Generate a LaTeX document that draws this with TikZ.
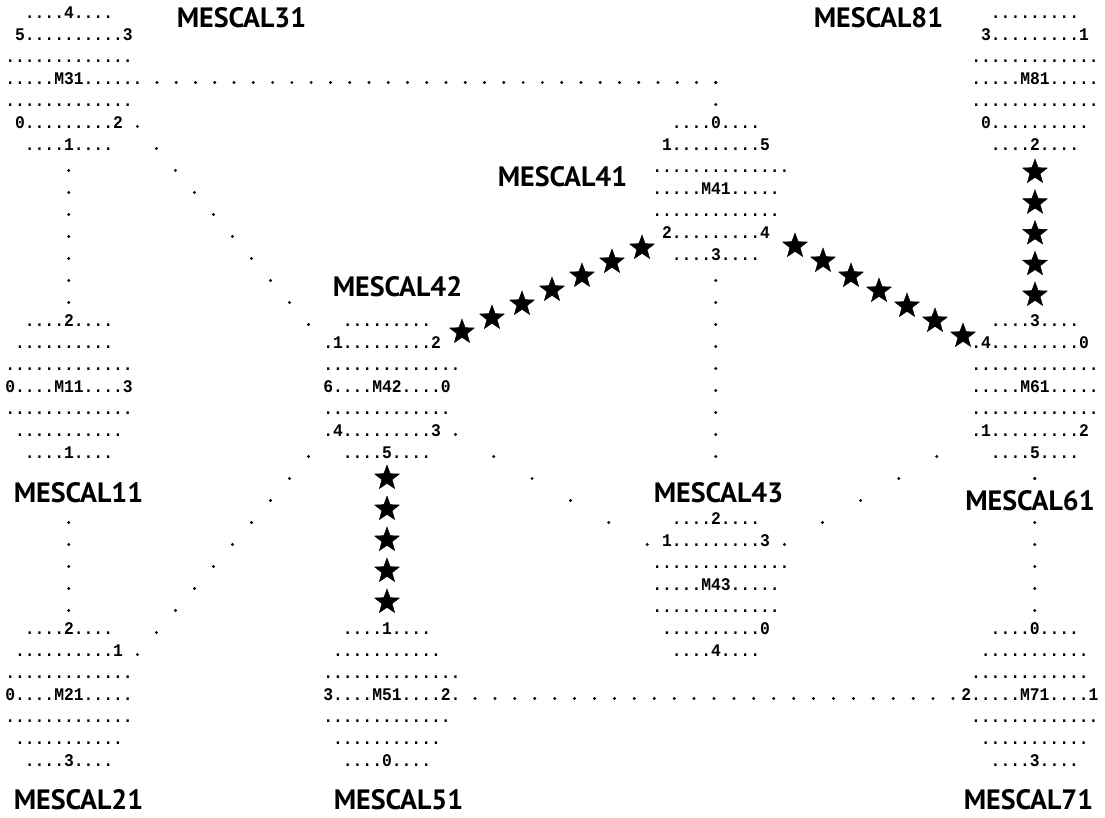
\documentclass[tikz,border=0pt]{standalone}
\usepackage{fontspec}
\usetikzlibrary{calc,shapes.geometric}
\newfontfamily\monof{Liberation Mono}[FakeStretch=0.92]
\newfontfamily\labf{PT Sans}
\newcommand\bl{\hphantom{0}}
\newcommand\dotline[3]{\foreach \i in {0,...,#3}{\fill ($(#1)!{\i/#3}!(#2)$) circle[radius=1.6pt];}}
\newcommand\starline[3]{\foreach \i in {0,...,#3}{\node[starmark] at ($(#1)!{\i/#3}!(#2)$) {};}}
\tikzset{
  block/.style={anchor=north west, inner sep=0pt, align=left, font=\monof\bfseries\fontsize{17.75}{22}\selectfont},
  lab/.style={inner sep=0pt, font=\labf\bfseries\fontsize{28}{28}\selectfont},
  starmark/.style={star, star points=5, star point ratio=2.4, fill=black, draw=black, minimum size=26pt, inner sep=0pt},
}
\begin{document}
\begin{tikzpicture}[x=1pt,y=-1pt]
\fill[white] (0,0) rectangle (1105,818);
\useasboundingbox (0,0) rectangle (1105,818);

% blocks
\node[block] (m31) at (5.1,2.6) {\strut\bl\bl....4....\\\bl5..........3\\.............\\.....M31......\\.............\\\bl0.........2\\\bl\bl....1....};
\node[block] (m11) at (5.1,310.6) {\strut\bl\bl....2....\\\bl..........\\.............\\0....M11....3\\.............\\\bl...........\\\bl\bl....1....};
\node[block] (m21) at (5.1,618.6) {\strut\bl\bl....2....\\\bl..........1\\.............\\0....M21.....\\.............\\\bl...........\\\bl\bl....3....};
\node[block] (m42) at (323.1,310.6) {\strut\bl\bl.........\\.1.........2\\..............\\6....M42....0\\.............\\.4.........3\\\bl\bl....5....};
\node[block] (m51) at (323.1,618.6) {\strut\bl\bl....1....\\\bl...........\\..............\\3....M51....2.\\.............\\\bl...........\\\bl\bl....0....};
\node[block] (m41) at (652.1,112.6) {\strut\bl\bl....0....\\\bl1.........5\\..............\\.....M41.....\\.............\\\bl2.........4\\\bl\bl....3....};
\node[block] (m43) at (652.1,508.6) {\strut\bl\bl....2....\\\bl1.........3\\..............\\.....M43.....\\.............\\\bl..........0\\\bl\bl....4....};
\node[block] (m61) at (971.1,310.6) {\strut\bl\bl....3....\\.4.........0\\.............\\.....M61.....\\.............\\.1.........2\\\bl\bl....5....};
\node[block] (m81) at (971.1,2.6) {\strut\bl\bl.........\\\bl3.........1\\.............\\.....M81.....\\.............\\\bl0..........\\\bl\bl....2....};
\node[block] (m71) at (961.1,618.6) {\strut\bl\bl\bl....0....\\\bl\bl...........\\\bl............\\2.....M71....1\\\bl.............\\\bl\bl...........\\\bl\bl\bl....3....};

% labels
\node[lab] (l31) at (241.5,18) {MESCAL31};
\node[lab] (l81) at (878.5,18) {MESCAL81};
\node[lab] (l41) at (562.5,177) {MESCAL41};
\node[lab] (l42) at (397.5,287) {MESCAL42};
\node[lab] (l11) at (78.5,493) {MESCAL11};
\node[lab] (l43) at (718.5,493) {MESCAL43};
\node[lab] (l61) at (1030,501) {MESCAL61};
\node[lab] (l21) at (78.5,800) {MESCAL21};
\node[lab] (l51) at (398.5,800) {MESCAL51};
\node[lab] (l71) at (1028.5,800) {MESCAL71};

% ports
\coordinate (p31a) at (157,82.5);
\coordinate (p41a) at (715.8,82.5);
\coordinate (p41b) at (715.8,104.5);
\coordinate (p31b) at (68.8,170.5);
\coordinate (p11a) at (68.8,302.5);
\coordinate (p31c) at (137.4,126.5);
\coordinate (p42a) at (308.4,324.5);
\coordinate (p11b) at (68.8,522.5);
\coordinate (p21a) at (68.8,610.5);
\coordinate (p42b) at (308.4,456.5);
\coordinate (p21b) at (137.4,654.5);
\coordinate (p42c) at (455.4,434.5);
\coordinate (p43a) at (647.2,544.5);
\coordinate (p61a) at (936.8,456.5);
\coordinate (p43b) at (784.4,544.5);
\coordinate (p41c) at (715.8,280.5);
\coordinate (p43c) at (715.8,456.5);
\coordinate (p61b) at (1034.8,478.5);
\coordinate (p61c) at (1034.8,522.5);
\coordinate (p71a) at (1034.8,610.5);
\coordinate (p51a) at (475,698.5);
\coordinate (p71b) at (953,698.5);

% dotted connectors
\dotline{p31a}{p41a}{29}
\dotline{p41a}{p41b}{1}
\dotline{p31b}{p11a}{6}
\dotline{p31c}{p42a}{9}
\dotline{p11b}{p21a}{4}
\dotline{p42b}{p21b}{9}
\dotline{p42c}{p43a}{5}
\dotline{p61a}{p43b}{4}
\dotline{p41c}{p43c}{8}
\dotline{p61b}{p61b}{1}
\dotline{p61c}{p71a}{4}
\dotline{p51a}{p71b}{24}

% star connectors
\coordinate (s81) at (1035,172);
\coordinate (s61) at (1035,295);
\coordinate (s42) at (387,478);
\coordinate (s51) at (387,602);
\coordinate (s42b) at (462,332);
\coordinate (s41a) at (642,248);
\coordinate (s41b) at (795,246);
\coordinate (s61b) at (963,336);
\starline{s81}{s61}{4}
\starline{s42}{s51}{4}
\starline{s42b}{s41a}{6}
\starline{s41b}{s61b}{6}
\end{tikzpicture}
\end{document}
